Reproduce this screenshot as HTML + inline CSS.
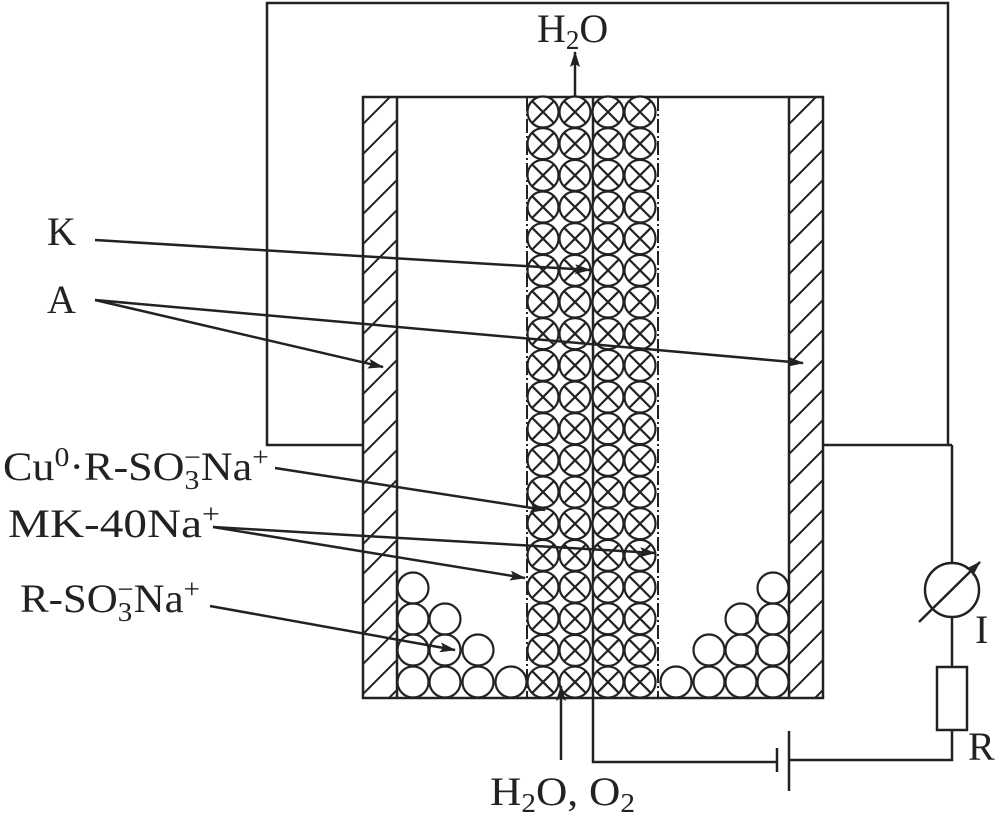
<!DOCTYPE html>
<html><head><meta charset="utf-8"><style>
html,body{margin:0;padding:0;background:#fff;}
svg{display:block;}
text{font-family:"Liberation Serif",serif;fill:#222;}
</style></head><body>
<svg id="s" width="998" height="823" viewBox="0 0 998 823" xmlns="http://www.w3.org/2000/svg">
<defs>
<marker id="ar" markerWidth="16" markerHeight="10" refX="15" refY="5" orient="auto" markerUnits="userSpaceOnUse"><path d="M0,0 L16,5 L0,10 L3,5 Z" fill="#222"/></marker>
<clipPath id="lw"><rect x="363" y="97" width="34" height="601"/></clipPath>
<clipPath id="rw"><rect x="789" y="97" width="34" height="601"/></clipPath>
</defs>
<g stroke="#222" stroke-width="2.5" fill="none">
<polyline points="363,445 267,445 267,3 948,3 948,445 823,445"/>
<line x1="952" y1="445" x2="952" y2="563"/>
<line x1="948" y1="445" x2="952" y2="445"/>
<line x1="952" y1="617" x2="952" y2="667"/>
<circle cx="952" cy="590" r="27"/>
<line x1="919" y1="622" x2="980" y2="562" marker-end="url(#ar)"/>
<rect x="937" y="667" width="30" height="63"/>
<polyline points="952,730 952,760 789,760"/>
<line x1="777" y1="748" x2="777" y2="772"/>
<line x1="789" y1="731" x2="789" y2="791"/>
<polyline points="777,762 593,762 593,698"/>
<rect x="363" y="97" width="460" height="601"/>
<line x1="397" y1="97" x2="397" y2="698"/>
<line x1="789" y1="97" x2="789" y2="698"/>
<line x1="593" y1="97" x2="593" y2="698"/>
<line x1="527" y1="97" x2="527" y2="698" stroke-dasharray="14,3,2,3" stroke-width="2"/>
<line x1="658" y1="97" x2="658" y2="698" stroke-dasharray="14,3,2,3" stroke-width="2"/>
<g id="hatch" stroke-width="2"></g>
<g id="circ" stroke-width="2.2"></g>
<line x1="575" y1="97" x2="575" y2="52" marker-end="url(#ar)"/>
<line x1="561" y1="760" x2="561" y2="686" marker-end="url(#ar)"/>
<line x1="95" y1="240" x2="590" y2="270" marker-end="url(#ar)"/>
<line x1="95" y1="300" x2="383" y2="367" marker-end="url(#ar)"/>
<line x1="95" y1="300" x2="803" y2="363" marker-end="url(#ar)"/>
<line x1="275" y1="468" x2="545" y2="510" marker-end="url(#ar)"/>
<line x1="213" y1="527" x2="525" y2="578" marker-end="url(#ar)"/>
<line x1="213" y1="527" x2="655" y2="553" marker-end="url(#ar)"/>
<line x1="210" y1="606" x2="455" y2="650" marker-end="url(#ar)"/>
</g>
<g font-size="40">
<text x="537" y="42">H<tspan font-size="27" dy="7">2</tspan><tspan dy="-7">O</tspan></text>
<text x="47" y="245">K</text>
<text x="47" y="313">A</text>
<text x="3" y="480" textLength="266" lengthAdjust="spacingAndGlyphs">Cu<tspan font-size="27" dy="-14">0</tspan><tspan dy="14">·R-SO</tspan><tspan font-size="27" dy="9">3</tspan><tspan font-size="27" dx="-14" dy="-23">−</tspan><tspan dy="14">Na</tspan><tspan font-size="27" dy="-14">+</tspan></text>
<text x="8" y="537" textLength="212" lengthAdjust="spacingAndGlyphs">MK-40Na<tspan font-size="27" dy="-14">+</tspan></text>
<text x="20" y="612" textLength="180" lengthAdjust="spacingAndGlyphs">R-SO<tspan font-size="27" dy="9">3</tspan><tspan font-size="27" dx="-14" dy="-23">−</tspan><tspan dy="14">Na</tspan><tspan font-size="27" dy="-14">+</tspan></text>
<text x="490" y="805" textLength="145" lengthAdjust="spacingAndGlyphs">H<tspan font-size="27" dy="7">2</tspan><tspan dy="-7">O, O</tspan><tspan font-size="27" dy="7">2</tspan></text>
<text x="975" y="643">I</text>
<text x="968" y="760">R</text>
</g>
<script>
var ns="http://www.w3.org/2000/svg";
function el(p,t,a){var e=document.createElementNS(ns,t);for(var k in a)e.setAttribute(k,a[k]);p.appendChild(e);return e;}
var h=document.getElementById('hatch');
var gl=el(h,'g',{'clip-path':'url(#lw)'}),gr=el(h,'g',{'clip-path':'url(#rw)'});
for(var y=60;y<760;y+=30){el(gl,'line',{x1:363,y1:y+34,x2:397,y2:y});el(gr,'line',{x1:789,y1:y+34,x2:823,y2:y});}
var c=document.getElementById('circ');var r=15.5;
var xs=[543,575,608,640];
for(var i=0;i<19;i++){var cy=112+i*31.67;xs.forEach(function(cx){el(c,'circle',{cx:cx,cy:cy,r:r,fill:'#fff'});var d=r*0.7;el(c,'line',{x1:cx-d,y1:cy-d,x2:cx+d,y2:cy+d});el(c,'line',{x1:cx-d,y1:cy+d,x2:cx+d,y2:cy-d});});}
var L=[[682,[413,445,478,511]],[650,[413,445,478]],[619,[413,445]],[588,[413]]];
var R=[[682,[676,709,741,773]],[650,[709,741,773]],[619,[741,773]],[588,[773]]];
L.concat(R).forEach(function(row){row[1].forEach(function(cx){el(c,'circle',{cx:cx,cy:row[0],r:r});});});
</script>
</svg>
</body></html>
